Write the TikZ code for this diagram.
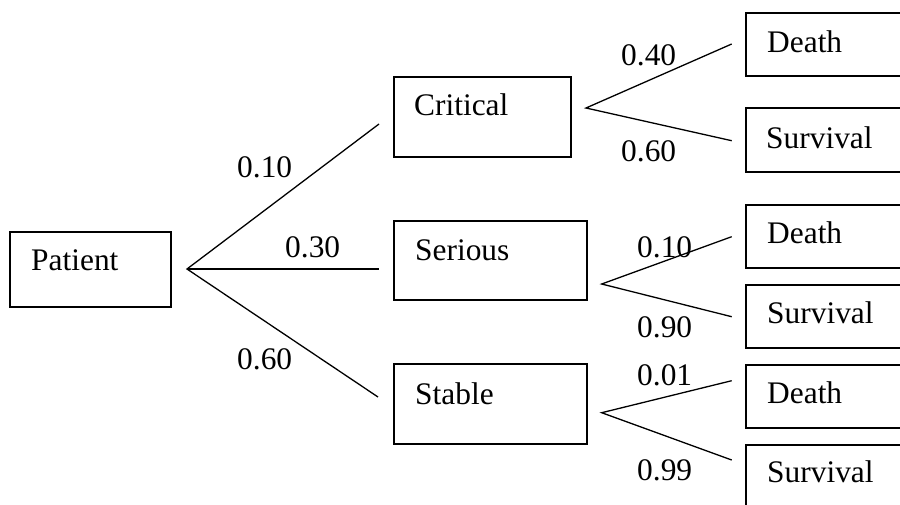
\documentclass[tikz,border=0pt]{standalone}
\usepackage{fontspec}
\setmainfont{Liberation Serif}
\begin{document}
\begin{tikzpicture}[x=1pt,y=-1pt,
  box/.style={draw,line width=1.3pt,inner sep=0pt,rectangle},
  txt/.style={anchor=base west,inner sep=0pt,font=\fontsize{31.4}{36}\selectfont},
  branch/.style={line width=1.3pt}]
\useasboundingbox (0,0) rectangle (900,504);
\clip (0,0) rectangle (900,504);
% boxes
\node[box,minimum width=161pt,minimum height=75pt] (patient) at (90.5,269.5) {};
\node[box,minimum width=177pt,minimum height=80pt] (critical) at (482.5,117) {};
\node[box,minimum width=193pt,minimum height=79pt] (serious) at (490.5,260.5) {};
\node[box,minimum width=193pt,minimum height=80pt] (stable) at (490.5,404) {};
\node[box,minimum width=164pt,minimum height=63pt] (death1) at (828,44.5) {};
\node[box,minimum width=164pt,minimum height=64pt] (surv1) at (828,140) {};
\node[box,minimum width=164pt,minimum height=63pt] (death2) at (828,236.5) {};
\node[box,minimum width=164pt,minimum height=63pt] (surv2) at (828,316.5) {};
\node[box,minimum width=164pt,minimum height=63pt] (death3) at (828,396.5) {};
\node[box,minimum width=164pt,minimum height=63pt] (surv3) at (828,476.5) {};
% box texts
\node[txt] (tpatient) at (31,270) {Patient};
\node[txt] (tcritical) at (414,115) {Critical};
\node[txt] (tserious) at (415,260) {Serious};
\node[txt] (tstable) at (415,404) {Stable};
\node[txt] (tdeath1) at (767,52) {Death};
\node[txt] (tsurv1) at (766,148) {Survival};
\node[txt] (tdeath2) at (767,243) {Death};
\node[txt] (tsurv2) at (767,323) {Survival};
\node[txt] (tdeath3) at (767,403) {Death};
\node[txt] (tsurv3) at (767,482) {Survival};
% branch points
\coordinate (pa) at (187,269);
\coordinate (pe1) at (379,124);
\coordinate (pe2) at (379,269);
\coordinate (pe3) at (378,397);
\coordinate (ca) at (586,108);
\coordinate (ce1) at (731.7,44);
\coordinate (ce2) at (731.7,140.7);
\coordinate (sa) at (601.7,284);
\coordinate (se1) at (731.7,236.7);
\coordinate (se2) at (731.7,316.7);
\coordinate (ta) at (601.7,412.7);
\coordinate (te1) at (731.7,380.7);
\coordinate (te2) at (731.7,460);
% branches
\draw[branch] (pe1) -- (pa) -- (pe3);
\draw[branch] (pa) -- (pe2);
\draw[branch] (ce1) -- (ca) -- (ce2);
\draw[branch] (se1) -- (sa) -- (se2);
\draw[branch] (te1) -- (ta) -- (te2);
% probabilities
\node[txt] (p1) at (237,177) {0.10};
\node[txt] (p2) at (285,257) {0.30};
\node[txt] (p3) at (237,369) {0.60};
\node[txt] (p4) at (621,65) {0.40};
\node[txt] (p5) at (621,161) {0.60};
\node[txt] (p6) at (637,257) {0.10};
\node[txt] (p7) at (637,337) {0.90};
\node[txt] (p8) at (637,385) {0.01};
\node[txt] (p9) at (637,480) {0.99};
\end{tikzpicture}
\end{document}
